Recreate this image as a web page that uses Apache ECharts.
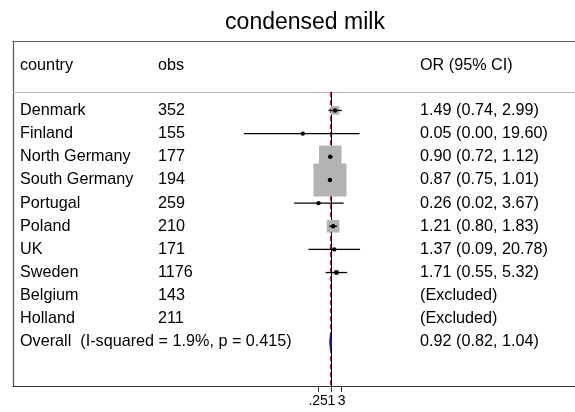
<!DOCTYPE html>
<html>
<head>
<meta charset="utf-8">
<script src="https://cdn.jsdelivr.net/npm/echarts@6/dist/echarts.min.js"></script>
<style>
  html, body { margin: 0; padding: 0; background: #fff; }
  #chart { width: 575px; height: 412px; }
</style>
</head>
<body>
<div id="chart"></div>
<script>
// Study-level results (odds ratios with 95% CI) for condensed milk
const countries = ['Denmark', 'Finland', 'North Germany', 'South Germany', 'Portugal',
                   'Poland', 'UK', 'Sweden', 'Belgium', 'Holland'];
const obs = [352, 155, 177, 194, 259, 210, 171, 1176, 143, 211];
const oddsRatio = [1.49, 0.05, 0.90, 0.87, 0.26, 1.21, 1.37, 1.71, null, null];
const ciLow = [0.74, 0.0001, 0.72, 0.75, 0.02, 0.80, 0.09, 0.55, null, null];
const ciHigh = [2.99, 19.60, 1.12, 1.01, 3.67, 1.83, 20.78, 5.32, null, null];
const weightPct = [4.0, 0.0, 27.0, 58.0, 0.3, 8.5, 0.3, 1.6, null, null];

// Pooled estimate and heterogeneity
const overallOR = [0.92, 0.82, 1.04];   // estimate, lower, upper
const iSquared = 1.9;
const pHet = 0.415;

const headers = ['country', 'obs', 'OR (95% CI)'];
const xTicks = [0.25, 1, 3];

// ---- layout constants ----
const FONT = "'Liberation Sans', Arial, sans-serif";
const LN_MIN = -33.505, LN_MAX = 25.653;        // log-axis span across the plot area
const COL_X = [1.25, 25.8, 72.42];              // text columns, % of plot width
const ROW_HEADER = -1.95, ROW_RULE = -0.8, ROW_TOP = -3, ROW_BOTTOM = 11.9;
const BOX_K = 4.33;                              // px per sqrt(weight %)
const overallRow = countries.length;

const fmt = v => v.toFixed(2);
const tickText = v => (v < 1 ? String(v).replace(/^0/, '') : String(v));

// rows of text
const textRows = [];
headers.forEach((h, c) => textRows.push([COL_X[c], ROW_HEADER, h]));
countries.forEach((name, i) => {
  textRows.push([COL_X[0], i, name]);
  textRows.push([COL_X[1], i, String(obs[i])]);
  const t = oddsRatio[i] == null ? '(Excluded)'
    : fmt(oddsRatio[i]) + ' (' + fmt(ciLow[i]) + ', ' + fmt(ciHigh[i]) + ')';
  textRows.push([COL_X[2], i, t]);
});
textRows.push([COL_X[0], overallRow,
  'Overall  (I-squared = ' + iSquared.toFixed(1) + '%, p = ' + pHet.toFixed(3) + ')']);
textRows.push([COL_X[2], overallRow,
  fmt(overallOR[0]) + ' (' + fmt(overallOR[1]) + ', ' + fmt(overallOR[2]) + ')']);

// study marks
const studyData = [];
countries.forEach((name, i) => {
  if (oddsRatio[i] == null) return;
  studyData.push([oddsRatio[i], ciLow[i], ciHigh[i], i, weightPct[i]]);
});

const chart = echarts.init(document.getElementById('chart'), null, { renderer: 'canvas' });

chart.setOption({
  animation: false,
  backgroundColor: '#fff',
  textStyle: { fontFamily: FONT },
  title: {
    text: 'condensed milk',
    left: 300,
    top: 6,
    textAlign: 'center',
    textStyle: { fontFamily: FONT, fontSize: 23, fontWeight: 'normal', color: '#000' }
  },
  grid: { left: 13, right: 0, top: 41, bottom: 26, containLabel: false },
  xAxis: [
    {
      type: 'log',
      logBase: 10,
      min: Math.exp(LN_MIN),
      max: Math.exp(LN_MAX),
      position: 'bottom',
      axisLine: { show: true, onZero: false, lineStyle: { color: '#333', width: 1.2 } },
      axisTick: { show: true, customValues: xTicks, length: 6, lineStyle: { color: '#333', width: 1 } },
      axisLabel: { show: false },
      splitLine: { show: false },
      minorTick: { show: false }
    },
    {
      type: 'value',
      min: 0, max: 100,
      position: 'top',
      axisLine: { show: true, onZero: false, lineStyle: { color: '#666', width: 1.2 } },
      axisTick: { show: false },
      axisLabel: { show: false },
      splitLine: { show: false }
    }
  ],
  yAxis: {
    type: 'value',
    inverse: true,
    min: ROW_TOP, max: ROW_BOTTOM,
    axisLine: { show: true, onZero: false, lineStyle: { color: '#555', width: 1.2 } },
    axisTick: { show: false },
    axisLabel: { show: false },
    splitLine: { show: false }
  },
  series: [
    // reference lines: header rule, null line at OR = 1, pooled estimate
    {
      type: 'scatter',
      xAxisIndex: 0, yAxisIndex: 0,
      data: [],
      z: 1,
      markLine: {
        silent: true,
        z: 1,
        symbol: 'none',
        label: { show: false },
        animation: false,
        data: [
          [{ coord: [Math.exp(LN_MIN), ROW_RULE] }, { coord: [Math.exp(LN_MAX), ROW_RULE],
            lineStyle: { color: '#b4b4b4', width: 1.2, type: 'solid' } }],
          [{ coord: [1, ROW_RULE] }, { coord: [1, ROW_BOTTOM],
            lineStyle: { color: '#000', width: 1, type: 'solid' } }],
          [{ coord: [overallOR[0], ROW_RULE] }, { coord: [overallOR[0], ROW_BOTTOM],
            lineStyle: { color: '#a8303a', width: 1.2, type: [5, 3] } }]
        ]
      }
    },
    // study boxes, confidence intervals and point estimates
    {
      type: 'custom',
      xAxisIndex: 0, yAxisIndex: 0,
      z: 3,
      data: studyData,
      renderItem: (params, api) => {
        const est = api.coord([api.value(0), api.value(3)]);
        const lo = api.coord([api.value(1), api.value(3)]);
        const hi = api.coord([api.value(2), api.value(3)]);
        const s = BOX_K * Math.sqrt(api.value(4));
        return {
          type: 'group',
          children: [
            { type: 'rect', shape: { x: est[0] - s / 2, y: est[1] - s / 2, width: s, height: s },
              style: { fill: '#b3b3b3' } },
            { type: 'line', shape: { x1: lo[0], y1: lo[1], x2: hi[0], y2: hi[1] },
              style: { stroke: '#000', lineWidth: 1.3 } },
            { type: 'circle', shape: { cx: est[0], cy: est[1], r: 2.2 },
              style: { fill: '#000' } }
          ]
        };
      }
    },
    // pooled diamond
    {
      type: 'custom',
      xAxisIndex: 0, yAxisIndex: 0,
      z: 4,
      data: [[overallOR[0], overallOR[1], overallOR[2], overallRow]],
      renderItem: (params, api) => {
        const c = api.coord([api.value(0), api.value(3)]);
        const l = api.coord([api.value(1), api.value(3)]);
        const r = api.coord([api.value(2), api.value(3)]);
        const h = 9;
        return {
          type: 'polygon',
          shape: { points: [[l[0], l[1]], [c[0], c[1] - h], [r[0], r[1]], [c[0], c[1] + h]] },
          style: { fill: '#1c1c86', stroke: '#1c1c86', lineWidth: 0.6 }
        };
      }
    },
    // x-axis tick labels, placed at their values on the log axis
    {
      type: 'custom',
      xAxisIndex: 0, yAxisIndex: 0,
      z: 5,
      data: xTicks.map(v => [v, ROW_BOTTOM]),
      renderItem: (params, api) => {
        const p = api.coord([api.value(0), api.value(1)]);
        return {
          type: 'text',
          x: p[0], y: p[1] + 8,
          style: {
            text: tickText(xTicks[params.dataIndex]),
            fill: '#000',
            font: '14px ' + FONT,
            textAlign: 'center',
            textVerticalAlign: 'top'
          }
        };
      }
    },
    // table text
    {
      type: 'custom',
      xAxisIndex: 1, yAxisIndex: 0,
      z: 5,
      data: textRows,
      renderItem: (params, api) => {
        const p = api.coord([api.value(0), api.value(1)]);
        return {
          type: 'text',
          x: p[0], y: p[1],
          style: {
            text: textRows[params.dataIndex][2],
            fill: '#000',
            font: '16.2px ' + FONT,
            textAlign: 'left',
            textVerticalAlign: 'middle'
          }
        };
      }
    }
  ]
});
</script>
</body>
</html>
